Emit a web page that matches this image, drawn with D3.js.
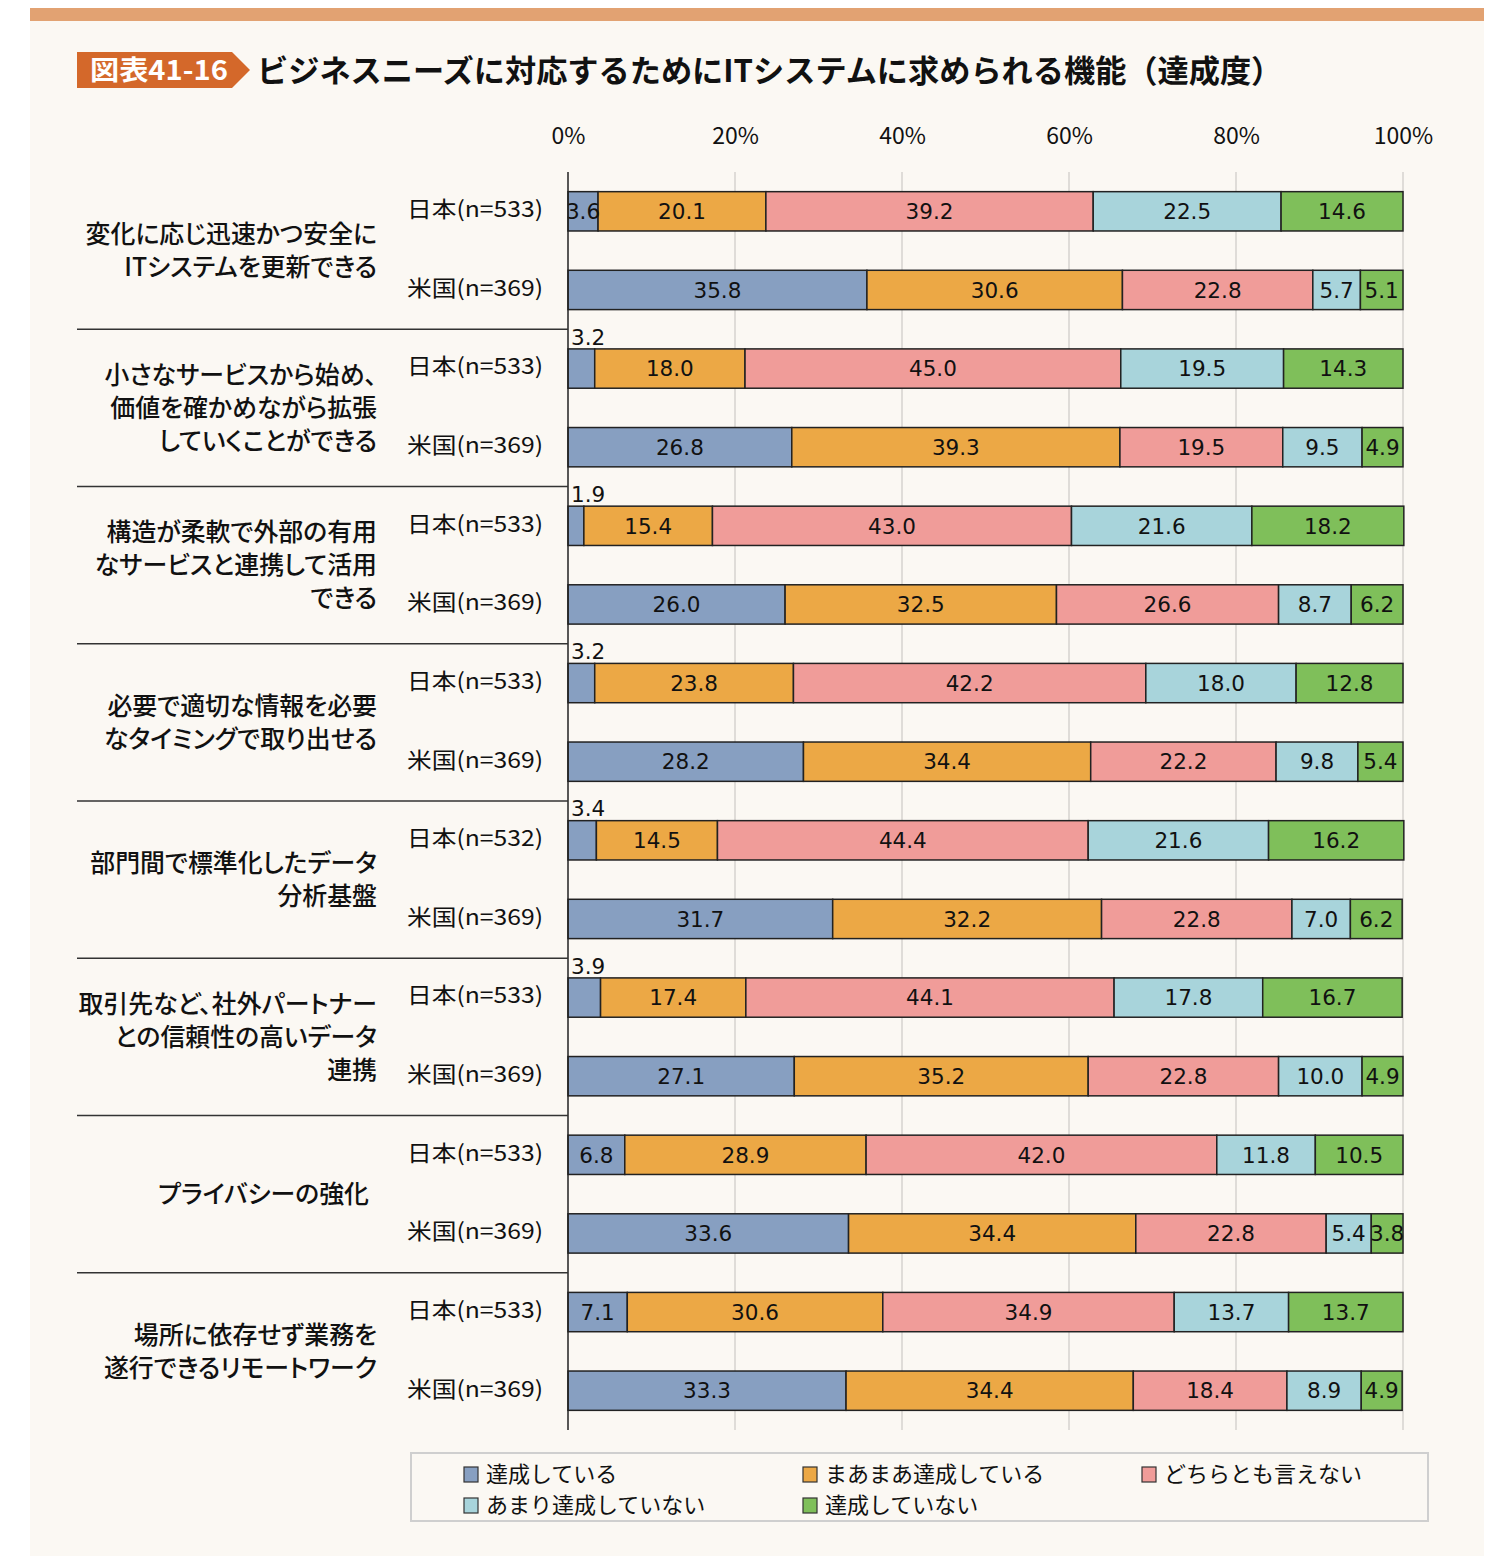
<!DOCTYPE html>
<html><head><meta charset="utf-8">
<script src="https://cdn.jsdelivr.net/npm/d3@7"></script>
<style>html,body{margin:0;padding:0;background:#fff}</style>
</head><body>
<svg id="chart" width="1507" height="1556"></svg>
<script>
const categories = [
  ["変化に応じ迅速かつ安全に","ITシステムを更新できる"],
  ["小さなサービスから始め、","価値を確かめながら拡張","していくことができる"],
  ["構造が柔軟で外部の有用","なサービスと連携して活用","できる"],
  ["必要で適切な情報を必要","なタイミングで取り出せる"],
  ["部門間で標準化したデータ","分析基盤"],
  ["取引先など、社外パートナー","との信頼性の高いデータ","連携"],
  ["プライバシーの強化"],
  ["場所に依存せず業務を","遂行できるリモートワーク"]
];
const jpLabels = ["日本(n=533)","日本(n=533)","日本(n=533)","日本(n=533)","日本(n=532)","日本(n=533)","日本(n=533)","日本(n=533)"];
const usLabels = ["米国(n=369)","米国(n=369)","米国(n=369)","米国(n=369)","米国(n=369)","米国(n=369)","米国(n=369)","米国(n=369)"];
const seriesNames = ["達成している","まあまあ達成している","どちらとも言えない","あまり達成していない","達成していない"];
const seriesColors = ["#879FC1","#ECA845","#F09C99","#A8D4DB","#7FBF5A"];
const jpValues = [
  [3.6,20.1,39.2,22.5,14.6],
  [3.2,18.0,45.0,19.5,14.3],
  [1.9,15.4,43.0,21.6,18.2],
  [3.2,23.8,42.2,18.0,12.8],
  [3.4,14.5,44.4,21.6,16.2],
  [3.9,17.4,44.1,17.8,16.7],
  [6.8,28.9,42.0,11.8,10.5],
  [7.1,30.6,34.9,13.7,13.7]
];
const usValues = [
  [35.8,30.6,22.8,5.7,5.1],
  [26.8,39.3,19.5,9.5,4.9],
  [26.0,32.5,26.6,8.7,6.2],
  [28.2,34.4,22.2,9.8,5.4],
  [31.7,32.2,22.8,7.0,6.2],
  [27.1,35.2,22.8,10.0,4.9],
  [33.6,34.4,22.8,5.4,3.8],
  [33.3,34.4,18.4,8.9,4.9]
];
// first-segment label of Japan row drawn above bar
const jpFirstAbove = [false,true,true,true,true,true,false,false];
const tickValues = [0,20,40,60,80,100];
const titleBadge = "図表41-16";
const titleText = "ビジネスニーズに対応するためにITシステムに求められる機能（達成度）";

const svg = d3.select("#chart");
const JP = "'Noto Sans CJK JP','Noto Sans',sans-serif";
const NUM = "'DejaVu Sans',Verdana,sans-serif";

// background
svg.append("rect").attr("x",30).attr("y",8).attr("width",1454).attr("height",1548).attr("fill","#FBF8F3");
svg.append("rect").attr("x",30).attr("y",8).attr("width",1454).attr("height",13).attr("fill","#E2A272");

// title badge
svg.append("path").attr("d","M77,52 H232 L250,70 L232,88 H77 Z").attr("fill","#D4682A");
svg.append("text").attr("x",90).attr("y",70).attr("dy","0.36em")
  .attr("font-family",JP).attr("font-weight","bold").attr("font-size",27).attr("fill","#fff")
  .attr("textLength",138).attr("lengthAdjust","spacingAndGlyphs").text(titleBadge);
svg.append("text").attr("x",257).attr("y",71).attr("dy","0.36em")
  .attr("font-family",JP).attr("font-weight","bold").attr("font-size",31.2).attr("fill","#111")
  .text(titleText);

// rows
const rows = [];
categories.forEach((c,i)=>{
  rows.push({id:"g"+i+"jp", g:i, label:jpLabels[i], vals:jpValues[i], jp:true});
  rows.push({id:"g"+i+"us", g:i, label:usLabels[i], vals:usValues[i], jp:false});
});

const x = d3.scaleLinear().domain([0,100]).range([568,1403]);
const y = d3.scaleBand().domain(rows.map(r=>r.id)).range([172,1430]).paddingInner(0.5).paddingOuter(0.25);

// gridlines
svg.append("g").selectAll("line").data(tickValues.slice(1)).join("line")
  .attr("x1",d=>x(d)).attr("x2",d=>x(d)).attr("y1",172).attr("y2",1430)
  .attr("stroke","#d6d3cf").attr("stroke-width",1.5);

// top axis
const axis = svg.append("g").attr("transform","translate(0,145)")
  .call(d3.axisTop(x).tickValues(tickValues).tickFormat(d=>d+"%").tickSize(0).tickPadding(0));
axis.select(".domain").remove();
axis.selectAll("text").attr("font-family",JP).attr("font-size",23).attr("fill","#111").attr("dy","-0.05em");

// stacked bars
const stack = rows.map(r=>{
  let acc=0;
  return r.vals.map((v,k)=>{const s={r, k, v, x0:acc, x1:acc+v}; acc+=v; return s;});
});
const barG = svg.append("g");
stack.forEach(segs=>{
  barG.selectAll(null).data(segs).join("rect")
    .attr("x",d=>x(d.x0)).attr("width",d=>x(d.x1)-x(d.x0))
    .attr("y",d=>y(d.r.id)).attr("height",y.bandwidth())
    .attr("fill",d=>seriesColors[d.k]).attr("stroke","#222").attr("stroke-width",1.5);
  barG.selectAll(null).data(segs).join("text")
    .attr("x",d=>{
      if(d.k===0 && d.r.jp && jpFirstAbove[d.r.g]) return x(d.x0)+3;
      return (x(d.x0)+x(d.x1))/2;
    })
    .attr("y",d=>{
      if(d.k===0 && d.r.jp && jpFirstAbove[d.r.g]) return y(d.r.id)-12;
      return y(d.r.id)+y.bandwidth()/2;
    })
    .attr("dy","0.36em")
    .attr("text-anchor",d=>(d.k===0 && d.r.jp && jpFirstAbove[d.r.g])?"start":"middle")
    .attr("font-family",NUM).attr("font-size",21.5).attr("fill","#111")
    .text(d=>d.v.toFixed(1));
});

// axis line (left)
svg.append("line").attr("x1",568).attr("x2",568).attr("y1",172).attr("y2",1430).attr("stroke","#222").attr("stroke-width",1.5);

// group separators
const step = y.step();
for(let i=0;i<categories.length-1;i++){
  const yy = y("g"+i+"us")+y.bandwidth()+(step-y.bandwidth())/2;
  svg.append("line").attr("x1",77).attr("x2",568).attr("y1",yy).attr("y2",yy).attr("stroke","#333").attr("stroke-width",1.5);
}

// row labels
svg.append("g").selectAll("text").data(rows).join("text")
  .attr("x",543).attr("y",d=>y(d.id)+y.bandwidth()/2-2).attr("dy","0.36em").attr("text-anchor","end")
  .attr("font-family",JP).attr("font-size",22).attr("fill","#111")
  .attr("textLength",136).attr("lengthAdjust","spacingAndGlyphs").text(d=>d.label);

// category labels
categories.forEach((lines,i)=>{
  const cy = (y("g"+i+"jp") + y("g"+i+"us")+y.bandwidth())/2;
  const lh = 33;
  const t = svg.append("text").attr("text-anchor","end").attr("font-family",JP).attr("font-size",24.9)
    .attr("font-weight",500).style("font-feature-settings","'palt'").attr("fill","#111");
  lines.forEach((ln,j)=>{
    t.append("tspan").attr("x", lines.length===1?369:377).attr("y", cy + (j-(lines.length-1)/2)*lh).attr("dy","0.36em").text(ln);
  });
});

// legend
svg.append("rect").attr("x",411).attr("y",1453).attr("width",1017).attr("height",68).attr("fill","none").attr("stroke","#cfcfcf").attr("stroke-width",2);
const legPos = [[464,1474],[803,1474],[1142,1474],[464,1505],[803,1505]];
seriesNames.forEach((n,k)=>{
  const [lx,ly]=legPos[k];
  svg.append("rect").attr("x",lx).attr("y",ly-7).attr("width",14).attr("height",15).attr("fill",seriesColors[k]).attr("stroke","#333").attr("stroke-width",1.2);
  svg.append("text").attr("x",lx+22).attr("y",ly).attr("dy","0.36em").attr("font-family",JP).attr("font-size",22).attr("fill","#111").text(n);
});
</script>
</body></html>
